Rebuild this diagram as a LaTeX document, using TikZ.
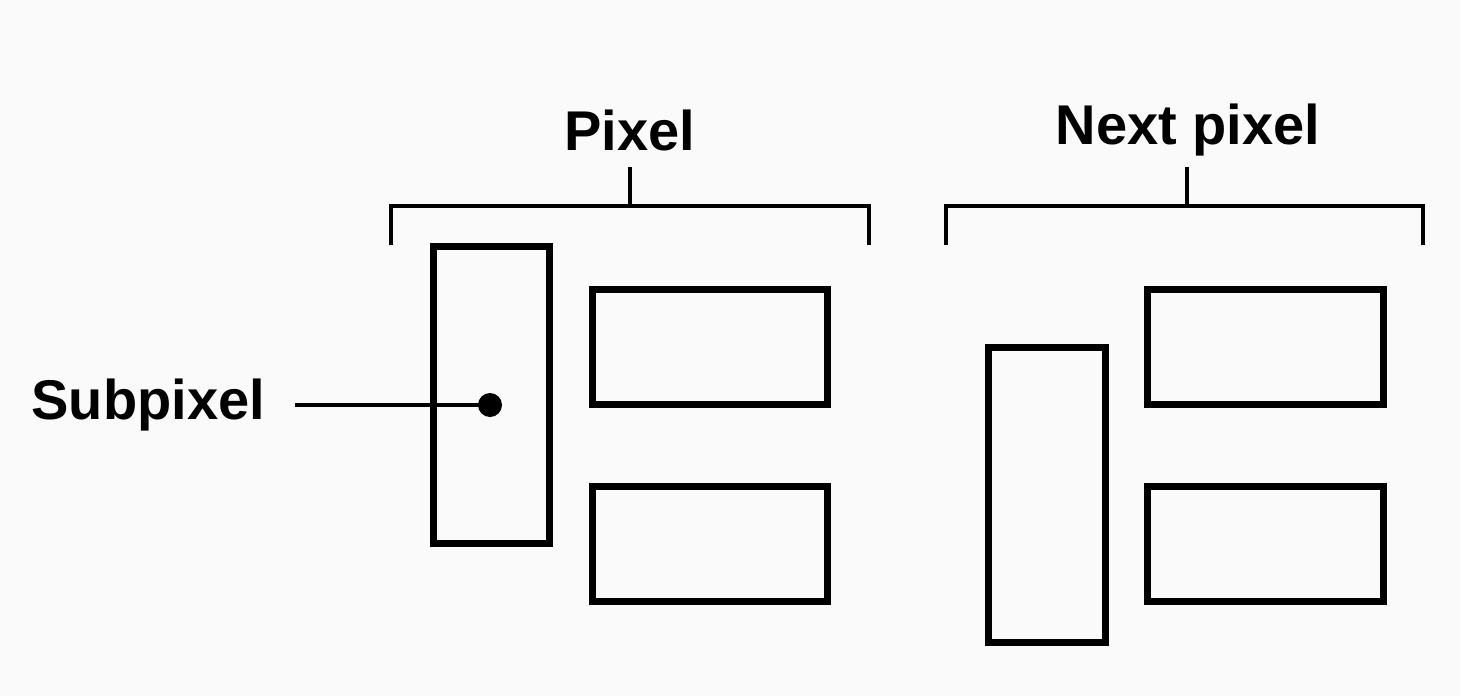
\documentclass[tikz,border=0pt]{standalone}
\usepackage{fontspec}
\setmainfont{Liberation Sans}
\begin{document}
\begin{tikzpicture}[x=1pt,y=-1pt,line width=7pt,
  lbl/.style={font=\fontsize{56}{60}\selectfont\bfseries,inner sep=0pt},
  brk/.style={line width=4.5pt}]
\fill[fill={rgb,255:red,250;green,250;blue,250}] (0,0) rectangle (1460,696);
\useasboundingbox (0,0) rectangle (1460,696);
% pixel
\draw (433,246) rectangle (549,543);
\draw (592,289) rectangle (827,404);
\draw (592,486) rectangle (827,601);
% next pixel
\draw (988,347) rectangle (1105,642);
\draw (1147,289) rectangle (1383,404);
\draw (1147,486) rectangle (1383,601);
% brackets
\draw[brk] (391,245) -- (391,206) -- (869,206) -- (869,245);
\draw[brk] (630,206) -- (630,167);
\draw[brk] (946,245) -- (946,206) -- (1423,206) -- (1423,245);
\draw[brk] (1187,206) -- (1187,167);
\node[lbl] (pix) at (630,130) {Pixel};
\node[lbl] (npix) at (1188,130) {Next pixel};
\node[lbl,anchor=west] (sub) at (28,405) {Subpixel};
\coordinate (dot) at (490,405);
\fill (dot) circle (12);
\draw[brk] (295,405) -- (dot);
\end{tikzpicture}
\end{document}
